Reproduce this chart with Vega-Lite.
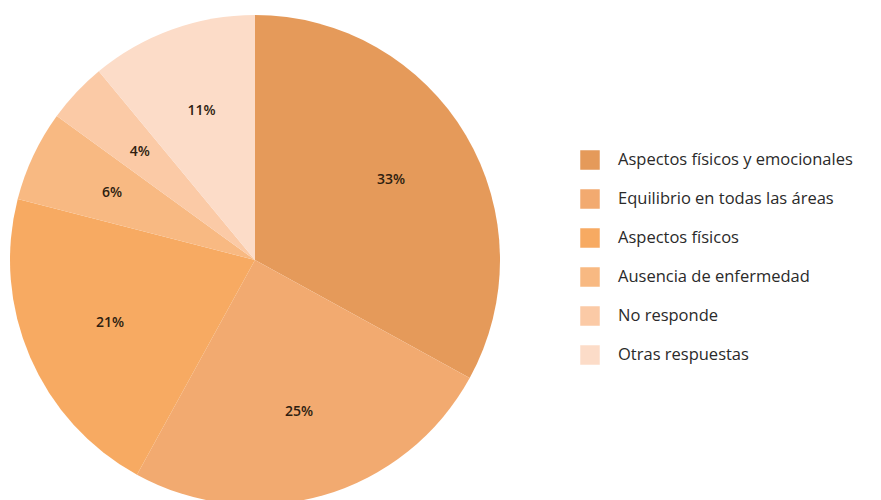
{
  "$schema": "https://vega.github.io/schema/vega-lite/v6.json",
  "width": 510,
  "height": 520,
  "padding": 0,
  "autosize": {"type": "pad"},
  "background": "white",
  "data": {"values": [
    {"idx": 1, "categoria": "Aspectos físicos y emocionales", "pct": 33},
    {"idx": 2, "categoria": "Equilibrio en todas las áreas", "pct": 25},
    {"idx": 3, "categoria": "Aspectos físicos", "pct": 21},
    {"idx": 4, "categoria": "Ausencia de enfermedad", "pct": 6},
    {"idx": 5, "categoria": "No responde", "pct": 4},
    {"idx": 6, "categoria": "Otras respuestas", "pct": 11}
  ]},
  "encoding": {
    "theta": {"field": "pct", "type": "quantitative", "stack": true},
    "order": {"field": "idx", "type": "ordinal"}
  },
  "layer": [
    {
      "mark": {"type": "arc", "radius": 245, "stroke": null},
      "encoding": {
        "color": {
          "field": "categoria",
          "type": "nominal",
          "sort": null,
          "scale": {
            "domain": ["Aspectos físicos y emocionales", "Equilibrio en todas las áreas", "Aspectos físicos", "Ausencia de enfermedad", "No responde", "Otras respuestas"],
            "range": ["#e59a5a", "#f2aa70", "#f7aa62", "#f8b982", "#fbcaa6", "#fcdcc8"]
          },
          "legend": {
            "title": null,
            "orient": "none",
            "legendX": 580,
            "legendY": 150,
            "symbolType": "square",
            "symbolSize": 380,
            "symbolStrokeWidth": 0,
            "symbolOpacity": 1,
            "labelFont": "Open Sans",
            "labelFontSize": 16.5,
            "labelColor": "#2a2a2a",
            "labelOffset": 18,
            "rowPadding": 19,
            "labelLimit": 400
          }
        }
      }
    },
    {
      "transform": [{"calculate": "datum.pct + '%'", "as": "etiqueta"}],
      "mark": {"type": "text", "radius": 158, "font": "Open Sans", "fontSize": 14, "fontWeight": 600, "color": "#2e1e10"},
      "encoding": {
        "text": {"field": "etiqueta", "type": "nominal"}
      }
    }
  ]
}
